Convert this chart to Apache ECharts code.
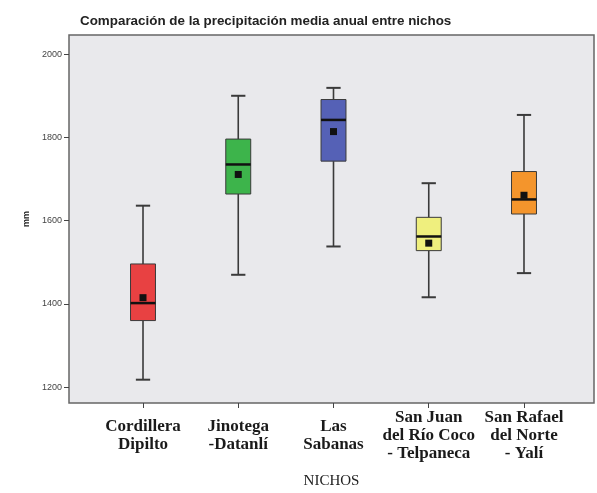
<!DOCTYPE html>
<html>
<head>
<meta charset="utf-8">
<script src="https://cdn.jsdelivr.net/npm/echarts@6/dist/echarts.min.js"></script>
<style>html,body{margin:0;padding:0;background:#fff}#c{width:597px;height:493px}</style>
</head>
<body>
<div id="c"></div>
<script>
const categories = ['Cordillera\nDipilto', 'Jinotega\n-Datanlí', 'Las\nSabanas', 'San Juan\ndel Río Coco\n- Telpaneca', 'San Rafael\ndel Norte\n- Yalí'];
const lows    = [1218, 1470, 1538, 1416, 1474];
const q1s     = [1360, 1664, 1743, 1528, 1616];
const medians = [1402, 1735, 1842, 1562, 1651];
const q3s     = [1496, 1796, 1891, 1608, 1718];
const highs   = [1636, 1900, 1919, 1690, 1854];
const means   = [1415, 1711, 1814, 1546, 1661];
const yTicks  = [1200, 1400, 1600, 1800, 2000];
const xTicks  = [0, 1, 2, 3, 4];
const boxColors = ['#E84142', '#3DB44B', '#5561B6', '#EFEF7E', '#F4952C'];

const data = categories.map((c, i) => [i, lows[i], q1s[i], medians[i], q3s[i], highs[i], means[i]]);

const chart = echarts.init(document.getElementById('c'), null, {renderer: 'canvas'});
chart.setOption({
  backgroundColor: '#fff',
  animation: false,
  title: {
    text: 'Comparación de la precipitación media anual entre nichos',
    left: 75, top: 10,
    textStyle: {fontFamily: 'Liberation Sans', fontSize: 13.4, fontWeight: 'bold', color: '#222'}
  },
  grid: {
    left: 69, right: 3, top: 35, bottom: 90,
    outerBoundsMode: 'none', containLabel: false,
    show: true, backgroundColor: '#E9E9EC', borderColor: '#666', borderWidth: 1.5
  },
  xAxis: {
    type: 'value', min: -0.777, max: 4.735,
    splitLine: {show: false},
    axisLine: {show: false, onZero: false},
    axisTick: {show: true, length: 5, customValues: xTicks, lineStyle: {color: '#444', width: 1}},
    axisLabel: {
      customValues: xTicks,
      formatter: v => categories[Math.round(v)],
      fontFamily: 'Liberation Serif', fontWeight: 'bold', fontSize: 17, lineHeight: 18,
      color: '#1a1a1a', verticalAlign: 'middle', margin: 33
    },
    name: 'NICHOS', nameLocation: 'middle', nameGap: 71,
    nameTextStyle: {fontFamily: 'Liberation Serif', fontSize: 15, color: '#222'}
  },
  yAxis: {
    type: 'value', min: 1162, max: 2046,
    splitLine: {show: false},
    axisLine: {show: false, onZero: false},
    axisTick: {show: true, length: 5, customValues: yTicks, lineStyle: {color: '#444', width: 1}},
    axisLabel: {customValues: yTicks, formatter: v => String(v), fontFamily: 'Liberation Sans', fontSize: 9, color: '#444', margin: 7},
    name: 'mm', nameLocation: 'middle', nameRotate: 90, nameGap: 38,
    nameTextStyle: {fontFamily: 'Liberation Sans', fontSize: 9, fontWeight: 'bold', color: '#222'}
  },
  series: [{
    type: 'custom',
    data: data,
    encode: {x: 0, y: [1, 2, 3, 4, 5, 6]},
    renderItem: function (params, api) {
      const x = api.value(0);
      const unit = api.size([1, 0])[0];
      const bw = unit * 0.262, cw = unit * 0.15, mw = 7;
      const pLow = api.coord([x, api.value(1)]);
      const pQ1 = api.coord([x, api.value(2)]);
      const pMed = api.coord([x, api.value(3)]);
      const pQ3 = api.coord([x, api.value(4)]);
      const pHigh = api.coord([x, api.value(5)]);
      const pMean = api.coord([x, api.value(6)]);
      const cx = pLow[0];
      const lineStyle = {stroke: '#3a3a3a', lineWidth: 1.6};
      return {
        type: 'group',
        children: [
          {type: 'line', shape: {x1: cx, y1: pLow[1], x2: cx, y2: pQ1[1]}, style: lineStyle},
          {type: 'line', shape: {x1: cx, y1: pQ3[1], x2: cx, y2: pHigh[1]}, style: lineStyle},
          {type: 'line', shape: {x1: cx - cw / 2, y1: pLow[1], x2: cx + cw / 2, y2: pLow[1]}, style: {stroke: '#3a3a3a', lineWidth: 2}},
          {type: 'line', shape: {x1: cx - cw / 2, y1: pHigh[1], x2: cx + cw / 2, y2: pHigh[1]}, style: {stroke: '#3a3a3a', lineWidth: 2}},
          {type: 'rect', shape: {x: cx - bw / 2, y: pQ3[1], width: bw, height: pQ1[1] - pQ3[1]},
            style: {fill: boxColors[params.dataIndex], stroke: '#3a3a3a', lineWidth: 1}},
          {type: 'line', shape: {x1: cx - bw / 2, y1: pMed[1], x2: cx + bw / 2, y2: pMed[1]}, style: {stroke: '#111', lineWidth: 2.5}},
          {type: 'rect', shape: {x: cx - mw / 2, y: pMean[1] - mw / 2, width: mw, height: mw}, style: {fill: '#111'}}
        ]
      };
    }
  }]
});
</script>
</body>
</html>
